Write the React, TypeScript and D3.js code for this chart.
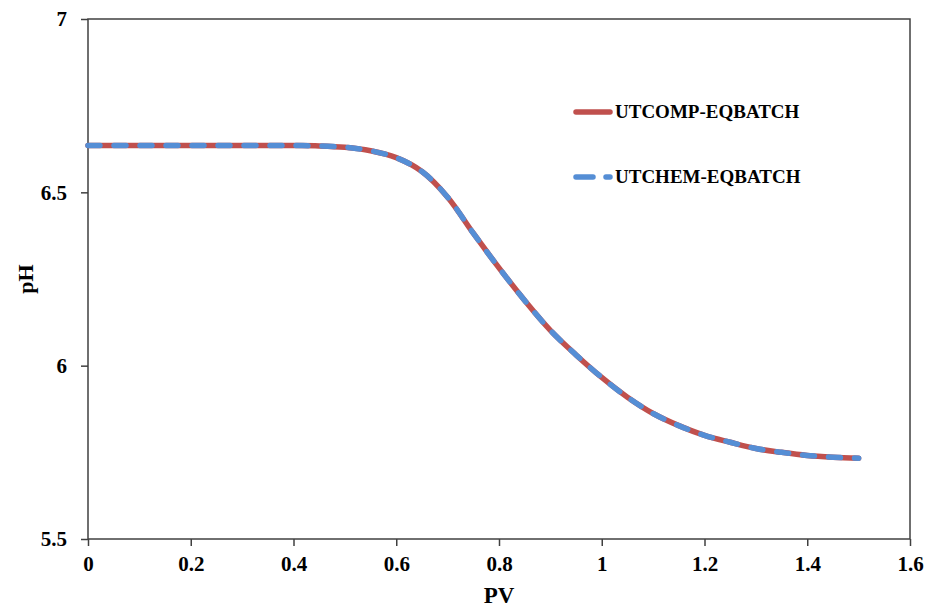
import { useEffect, useRef } from "react";
import * as d3 from "d3";

// pore volumes injected
const pv = [
  0, 0.05, 0.1, 0.15, 0.2, 0.25, 0.3, 0.35, 0.4, 0.45, 0.5, 0.55, 0.6, 0.65,
  0.7, 0.75, 0.8, 0.85, 0.9, 0.95, 1.0, 1.05, 1.1, 1.15, 1.2, 1.25, 1.3, 1.35,
  1.4, 1.45, 1.5,
];
// pH from UTCOMP-EQBATCH
const phUtcomp = [
  6.635, 6.635, 6.635, 6.635, 6.635, 6.635, 6.635, 6.635, 6.635, 6.634, 6.63,
  6.62, 6.6, 6.56, 6.486, 6.382, 6.282, 6.188, 6.102, 6.031, 5.966, 5.909,
  5.862, 5.827, 5.799, 5.779, 5.761, 5.75, 5.741, 5.736, 5.733,
];
// pH from UTCHEM-EQBATCH (overlaps)
const phUtchem = [
  6.635, 6.635, 6.635, 6.635, 6.635, 6.635, 6.635, 6.635, 6.635, 6.634, 6.63,
  6.62, 6.6, 6.56, 6.486, 6.382, 6.282, 6.188, 6.102, 6.031, 5.966, 5.909,
  5.862, 5.827, 5.799, 5.779, 5.761, 5.75, 5.741, 5.736, 5.733,
];
const xTicks = [0, 0.2, 0.4, 0.6, 0.8, 1, 1.2, 1.4, 1.6];
const yTicks = [5.5, 6, 6.5, 7];
const seriesNames = ["UTCOMP-EQBATCH", "UTCHEM-EQBATCH"];

const RED = "#C0504D";
const BLUE = "#558ED5";
const AXIS = "#404040";
const FONT = "Liberation Serif, Times New Roman, serif";

export default function App() {
  const ref = useRef<SVGSVGElement>(null);

  useEffect(() => {
    const W = 932,
      H = 608;
    const margin = { top: 19, right: 22, bottom: 69, left: 88 };
    const width = W - margin.left - margin.right,
      height = H - margin.top - margin.bottom;

    const root = d3.select(ref.current);
    root.selectAll("*").remove();
    const svg = root
      .append("g")
      .attr("font-family", FONT)
      .attr("font-weight", "bold")
      .attr("transform", `translate(${margin.left}, ${margin.top})`);

    const x = d3.scaleLinear().domain([0, 1.6]).range([0, width]);
    const y = d3.scaleLinear().domain([5.5, 7]).range([height, 0]);

    // frame
    svg
      .append("rect")
      .attr("width", width)
      .attr("height", height)
      .attr("fill", "none")
      .attr("stroke", AXIS)
      .attr("stroke-width", 1.5);

    // X axis
    svg
      .append("g")
      .attr("transform", `translate(0, ${height})`)
      .call(
        d3
          .axisBottom(x)
          .tickValues(xTicks)
          .tickSize(7)
          .tickPadding(10)
          .tickFormat((d) => String(d))
      )
      .attr("font-family", FONT)
      .attr("font-size", 21)
      .call((g) => g.select(".domain").remove())
      .call((g) =>
        g.selectAll(".tick line").attr("stroke", AXIS).attr("stroke-width", 1.5)
      )
      .call((g) => g.selectAll(".tick text").attr("fill", "#000"));

    // Y axis
    svg
      .append("g")
      .call(
        d3
          .axisLeft(y)
          .tickValues(yTicks)
          .tickSize(7)
          .tickPadding(14)
          .tickFormat((d) => String(d))
      )
      .attr("font-family", FONT)
      .attr("font-size", 21)
      .call((g) => g.select(".domain").remove())
      .call((g) =>
        g.selectAll(".tick line").attr("stroke", AXIS).attr("stroke-width", 1.5)
      )
      .call((g) => g.selectAll(".tick text").attr("fill", "#000"));

    // axis titles
    svg
      .append("text")
      .attr("x", x(0.8))
      .attr("y", height + 64)
      .attr("text-anchor", "middle")
      .attr("font-size", 23)
      .text("PV");

    svg
      .append("text")
      .attr("transform", `translate(${33 - margin.left}, ${y(6.25)}) rotate(-90)`)
      .attr("text-anchor", "middle")
      .attr("font-size", 22)
      .text("pH");

    const line = d3
      .line<number>()
      .x((_, i) => x(pv[i]))
      .y((d) => y(d))
      .curve(d3.curveCatmullRom.alpha(0.5));

    svg
      .append("path")
      .datum(phUtcomp)
      .attr("d", line)
      .attr("fill", "none")
      .attr("stroke", RED)
      .attr("stroke-width", 5.5)
      .attr("stroke-linecap", "round");

    svg
      .append("path")
      .datum(phUtchem)
      .attr("d", line)
      .attr("fill", "none")
      .attr("stroke", BLUE)
      .attr("stroke-width", 5.5)
      .attr("stroke-linecap", "round")
      .attr("stroke-dasharray", "12,14");

    // legend
    const legend = svg.append("g").attr("transform", `translate(${573 - margin.left}, 0)`);
    const rows = [
      { name: seriesNames[0], color: RED, dash: null, cy: 112 - margin.top },
      { name: seriesNames[1], color: BLUE, dash: "17,13", cy: 177 - margin.top },
    ];
    rows.forEach((r) => {
      const l = legend
        .append("line")
        .attr("x1", 3)
        .attr("x2", 37)
        .attr("y1", r.cy)
        .attr("y2", r.cy)
        .attr("stroke", r.color)
        .attr("stroke-width", 5.5)
        .attr("stroke-linecap", "round");
      if (r.dash) l.attr("stroke-dasharray", r.dash);
      legend
        .append("text")
        .attr("x", 42)
        .attr("y", r.cy + 6)
        .attr("font-size", 19)
        .text(r.name);
    });
  }, []);

  return (
    <svg
      ref={ref}
      width={932}
      height={608}
      style={{ position: "absolute", left: 0, top: 0, background: "#fff" }}
    />
  );
}
